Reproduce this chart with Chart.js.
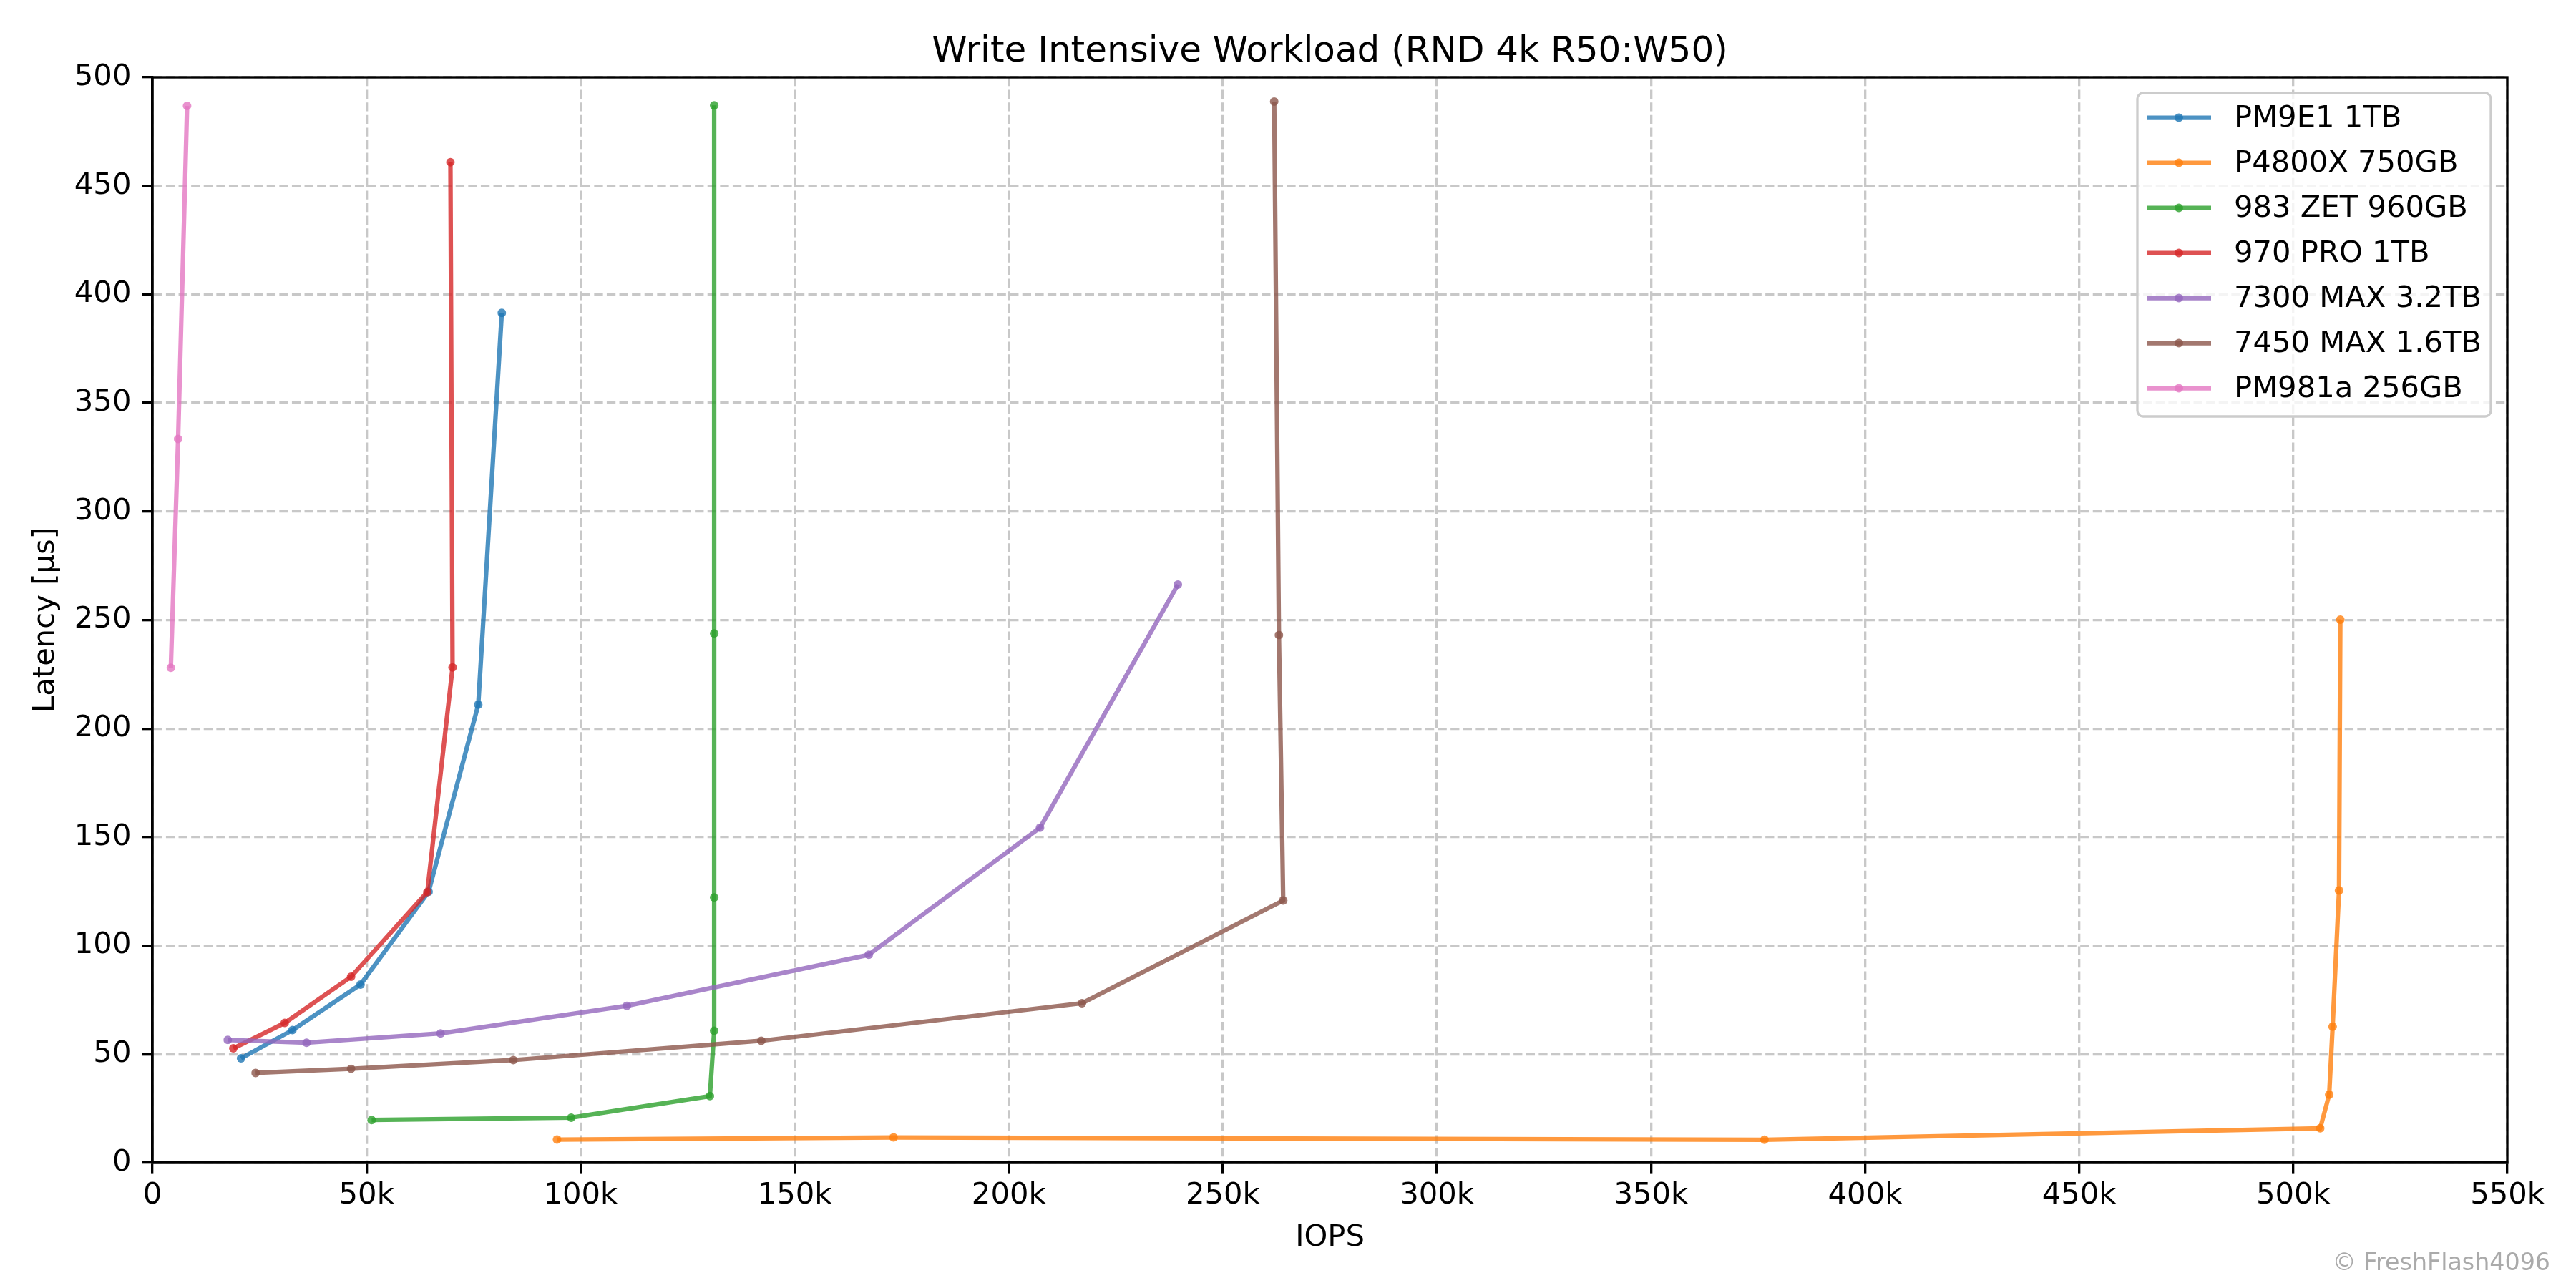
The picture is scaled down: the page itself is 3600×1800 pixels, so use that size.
<!DOCTYPE html>
<html>
<head>
<meta charset="utf-8">
<title>Write Intensive Workload (RND 4k R50:W50)</title>
<script src="https://cdn.jsdelivr.net/npm/chart.js@4.4.1/dist/chart.umd.min.js"></script>
<style>
    html, body { margin: 0; padding: 0; background: #fff; }
    #wrap { width: 3600px; height: 1800px; }
</style>
</head>
<body>
<div id="wrap"><canvas id="latency-chart" width="3600" height="1800"></canvas></div>
<script>
    // Series names (legend order)
    const seriesNames = ["PM9E1 1TB", "P4800X 750GB", "983 ZET 960GB", "970 PRO 1TB", "7300 MAX 3.2TB", "7450 MAX 1.6TB", "PM981a 256GB"];
    const seriesColors = ["31, 119, 180", "255, 127, 14", "44, 160, 44", "214, 39, 40", "148, 103, 189", "140, 86, 75", "227, 119, 194"];

    // IOPS (x) and latency in µs (y)
    const pm9e1Iops = [20700, 32700, 48600, 64500, 76100, 81600];
    const pm9e1Lat = [48.1, 61.1, 82.1, 124.8, 211.0, 391.5];

    const p4800xIops = [94500, 173100, 376500, 506300, 508400, 509200, 510700, 511000];
    const p4800xLat = [10.7, 11.7, 10.6, 15.9, 31.4, 62.7, 125.4, 250.2];

    const zet983Iops = [51200, 97800, 130200, 131200, 131200, 131200, 131200];
    const zet983Lat = [19.7, 20.8, 30.7, 60.8, 122.2, 243.8, 487.1];

    const pro970Iops = [18900, 30900, 46400, 64200, 70100, 69600];
    const pro970Lat = [52.7, 64.4, 85.7, 124.7, 228.2, 460.9];

    const max7300Iops = [17600, 36000, 67300, 110800, 167300, 207300, 239500];
    const max7300Lat = [56.6, 55.3, 59.6, 72.3, 95.8, 154.3, 266.3];

    const max7450Iops = [24100, 46400, 84300, 142200, 217100, 264100, 263100, 262000];
    const max7450Lat = [41.4, 43.3, 47.3, 56.2, 73.5, 120.8, 243.1, 488.8];

    const pm981aIops = [4300, 6000, 8100];
    const pm981aLat = [228.0, 333.4, 486.8];

    const seriesIops = [pm9e1Iops, p4800xIops, zet983Iops, pro970Iops, max7300Iops, max7450Iops, pm981aIops];
    const seriesLat = [pm9e1Lat, p4800xLat, zet983Lat, pro970Lat, max7300Lat, max7450Lat, pm981aLat];

    // Axis ranges / ticks
    const xMin = 0, xMax = 550000, xStep = 50000;
    const yMin = 0, yMax = 500, yStep = 50;

    const FONT = "'DejaVu Sans', 'Liberation Sans', sans-serif";
    const LW = 6.25;          // 1.5pt at 300dpi
    const AXW = 3.33;         // 0.8pt
    const TICKLEN = 14.6;

    Chart.defaults.font.family = FONT;
    Chart.defaults.color = "#000";

    function rgba(c, a) {
        return "rgba(" + c + ", " + a + ")";
    }

    const datasets = seriesNames.map(function (name, i) {
        const pts = seriesIops[i].map(function (x, j) {
            return { x: x, y: seriesLat[i][j] };
        });
        return {
            label: name,
            data: pts,
            showLine: true,
            borderColor: rgba(seriesColors[i], 0.8),
            backgroundColor: rgba(seriesColors[i], 0.8),
            pointBackgroundColor: rgba(seriesColors[i], 0.8),
            pointBorderWidth: 0,
            pointRadius: 6,
            borderWidth: LW,
            borderJoinStyle: "round",
            tension: 0,
            order: -i
        };
    });

    // Frame, legend and watermark drawn on top of the lines
    const overlay = {
        id: "overlay",
        afterDatasetsDraw: function (chart) {
            const ctx = chart.ctx;
            const a = chart.chartArea;
            ctx.save();
            ctx.strokeStyle = "#000";
            ctx.lineWidth = AXW;
            ctx.strokeRect(a.left, a.top, a.right - a.left, a.bottom - a.top);

            // legend box
            const bx = 2987, by = 130, bw = 494, bh = 452, r = 8;
            ctx.beginPath();
            ctx.moveTo(bx + r, by);
            ctx.arcTo(bx + bw, by, bx + bw, by + bh, r);
            ctx.arcTo(bx + bw, by + bh, bx, by + bh, r);
            ctx.arcTo(bx, by + bh, bx, by, r);
            ctx.arcTo(bx, by, bx + bw, by, r);
            ctx.closePath();
            ctx.fillStyle = "rgba(255, 255, 255, 0.8)";
            ctx.fill();
            ctx.strokeStyle = "#cccccc";
            ctx.lineWidth = 3.3;
            ctx.stroke();

            ctx.font = "41.7px " + FONT;
            ctx.textAlign = "left";
            ctx.textBaseline = "middle";
            chart.data.datasets.forEach(function (ds, i) {
                const y = 164.5 + i * 63;
                ctx.strokeStyle = ds.borderColor;
                ctx.lineWidth = LW;
                ctx.beginPath();
                ctx.moveTo(3000, y);
                ctx.lineTo(3090, y);
                ctx.stroke();
                ctx.fillStyle = ds.pointBackgroundColor;
                ctx.beginPath();
                ctx.arc(3045, y, 6, 0, Math.PI * 2);
                ctx.fill();
                ctx.fillStyle = "#000";
                ctx.fillText(ds.label, 3122, y + 2);
            });

            // watermark
            ctx.font = "33.3px " + FONT;
            ctx.fillStyle = "#aaaaaa";
            ctx.textAlign = "right";
            ctx.textBaseline = "alphabetic";
            ctx.fillText("\u00a9 FreshFlash4096", 3564, 1775);
            ctx.restore();
        }
    };

    new Chart(document.getElementById("latency-chart").getContext("2d"), {
        type: "scatter",
        data: { datasets: datasets },
        options: {
            responsive: false,
            devicePixelRatio: 1,
            animation: false,
            events: [],
            layout: { padding: { left: 0, top: 0, right: 96, bottom: 0 } },
            plugins: {
                legend: { display: false },
                tooltip: { enabled: false },
                title: {
                    display: true,
                    fullSize: false,
                    text: "Write Intensive Workload (RND 4k R50:W50)",
                    color: "#000",
                    font: { size: 50, weight: "normal", family: FONT },
                    padding: { top: 43, bottom: 5 }
                }
            },
            scales: {
                x: {
                    type: "linear",
                    min: xMin,
                    max: xMax,
                    afterFit: function (s) { s.height = 175; },
                    ticks: {
                        stepSize: xStep,
                        padding: 7,
                        color: "#000",
                        font: { size: 41.7 },
                        maxRotation: 0,
                        callback: function (v) { return v === 0 ? "0" : (v / 1000) + "k"; }
                    },
                    grid: {
                        color: "#c8c8c8",
                        lineWidth: AXW,
                        tickLength: TICKLEN,
                        tickColor: "#000",
                        tickWidth: AXW
                    },
                    border: { display: true, color: "#000", width: AXW, dash: [12.3, 5.3] },
                    title: {
                        display: true,
                        text: "IOPS",
                        color: "#000",
                        font: { size: 41.7 },
                        padding: { top: 0, bottom: 45 }
                    }
                },
                y: {
                    type: "linear",
                    min: yMin,
                    max: yMax,
                    afterFit: function (s) { s.width = 213; },
                    ticks: {
                        stepSize: yStep,
                        padding: 15,
                        color: "#000",
                        font: { size: 41.7 }
                    },
                    grid: {
                        color: "#c8c8c8",
                        lineWidth: AXW,
                        tickLength: TICKLEN,
                        tickColor: "#000",
                        tickWidth: AXW
                    },
                    border: { display: true, color: "#000", width: AXW, dash: [12.3, 5.3] },
                    title: {
                        display: true,
                        text: "Latency [\u00b5s]",
                        color: "#000",
                        font: { size: 41.7 },
                        padding: { top: 39, bottom: 0 }
                    }
                }
            }
        },
        plugins: [overlay]
    });
</script>
</body>
</html>
